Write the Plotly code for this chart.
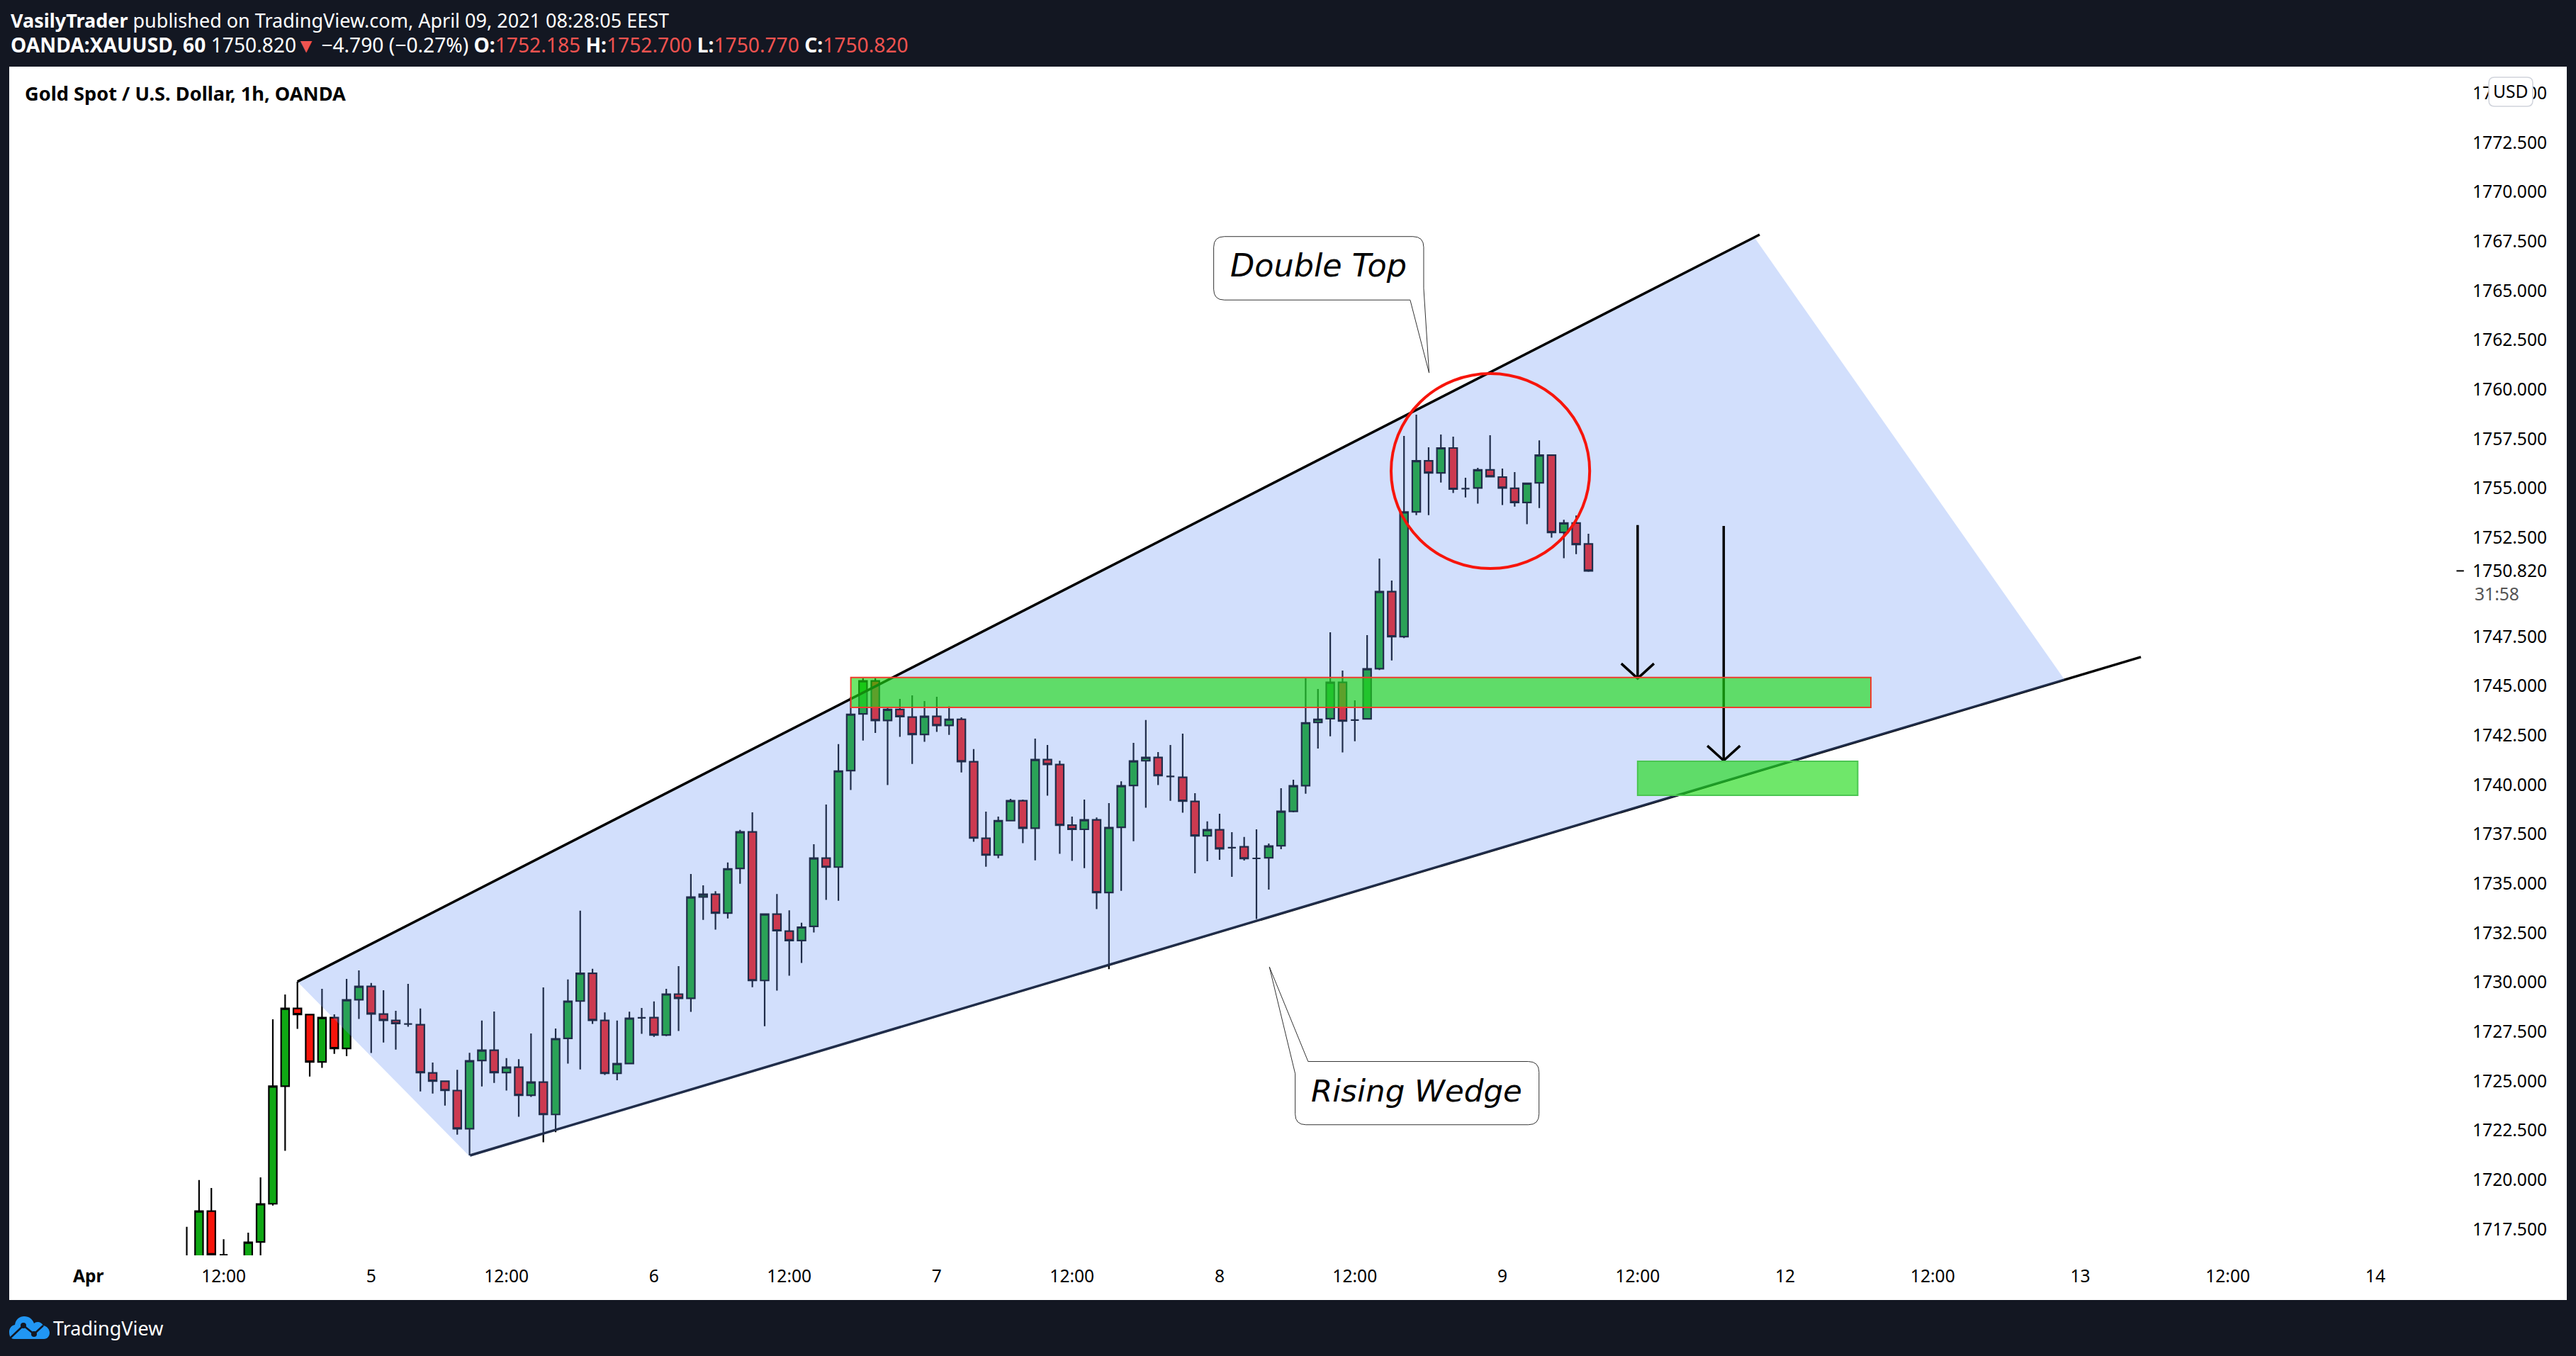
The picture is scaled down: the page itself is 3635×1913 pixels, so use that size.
import plotly.graph_objects as go

W, H = 3635, 1913
L, R, T, B = 13, 3482, 94, 1771

bar_index = list(range(115))
opens = [1715.4,1715.5,1718.42,1716.2,1715.3,1715.6,1716.86,1718.79,1724.74,1728.68,
1728.36,1725.97,1728.21,1726.65,1729.12,1729.79,1728.39,1728.07,1727.89,1727.85,
1725.41,1724.99,1724.52,1722.59,1726.04,1726.56,1725.43,1725.70,1724.28,1724.95,
1723.31,1727.16,1729.05,1730.45,1728.07,1725.39,1725.89,1728.20,1728.21,1727.33,
1729.40,1729.19,1734.32,1734.45,1733.50,1735.76,1737.61,1730.09,1733.45,1732.59,
1732.11,1732.83,1736.28,1735.83,1740.71,1743.58,1745.25,1743.25,1743.81,1743.42,
1742.54,1743.46,1743.00,1743.31,1741.16,1737.29,1736.44,1738.18,1739.19,1737.80,
1741.27,1741.02,1737.95,1737.74,1738.22,1734.54,1737.84,1739.96,1741.21,1741.38,
1740.42,1740.37,1739.15,1737.41,1737.72,1736.81,1736.86,1736.27,1736.30,1736.91,
1738.65,1739.95,1743.15,1743.34,1745.18,1743.27,1743.33,1745.87,1749.77,1747.49,
1753.81,1756.39,1755.78,1757.04,1754.98,1755.02,1755.93,1755.57,1755.00,1754.28,
1755.28,1756.68,1752.77,1753.24,1752.185]
highs = [1717.62,1719.99,1719.59,1717.0,1715.8,1717.33,1720.13,1728.13,1729.38,1730.03,
1728.4,1729.67,1728.38,1730.17,1730.60,1729.96,1729.60,1728.56,1729.92,1728.67,
1725.94,1725.0,1725.57,1726.43,1728.06,1728.52,1726.16,1726.11,1727.41,1729.74,
1727.66,1730.14,1733.62,1730.68,1728.48,1728.06,1728.51,1728.70,1729.03,1729.67,
1730.82,1735.48,1734.91,1734.61,1736.06,1737.71,1738.60,1733.45,1734.47,1733.64,
1733.01,1736.99,1739.00,1742.05,1744.44,1745.39,1745.39,1743.88,1744.34,1744.52,
1744.23,1744.45,1743.96,1743.41,1741.80,1738.64,1738.39,1739.28,1739.25,1742.33,
1742.01,1741.21,1738.39,1739.25,1738.34,1739.07,1740.17,1742.12,1743.27,1741.65,
1742.01,1742.58,1739.57,1738.14,1738.53,1737.60,1737.35,1737.74,1737.02,1739.82,
1740.25,1745.39,1744.84,1747.71,1745.78,1744.27,1747.57,1751.44,1750.33,1757.65,
1758.73,1757.08,1757.72,1757.61,1755.53,1756.04,1757.69,1756.00,1755.82,1755.25,
1757.43,1756.7,1753.41,1753.62,1752.70]
lows = [1714.9,1714.8,1715.8,1715.5,1714.9,1715.2,1715.6,1718.7,1721.47,1727.64,
1725.23,1725.67,1726.38,1726.26,1728.14,1726.42,1726.95,1726.59,1727.75,1724.48,
1724.37,1723.76,1722.29,1721.24,1724.73,1724.91,1724.52,1723.19,1724.2,1721.90,
1722.41,1725.88,1725.59,1727.89,1725.31,1725.04,1725.85,1727.39,1727.24,1727.27,
1727.53,1728.50,1733.16,1732.66,1733.23,1734.99,1729.75,1727.78,1729.58,1730.33,
1730.98,1732.52,1734.17,1734.13,1739.73,1742.23,1742.62,1739.98,1742.42,1741.05,
1742.17,1742.67,1742.52,1740.62,1737.11,1735.85,1736.28,1738.15,1737.04,1736.17,
1739.44,1736.50,1736.14,1735.78,1733.70,1730.66,1734.63,1737.14,1738.83,1739.98,
1739.18,1738.58,1735.52,1736.13,1736.20,1735.34,1736.16,1733.20,1734.69,1736.74,
1738.6,1739.54,1741.83,1742.45,1741.63,1742.20,1743.3,1745.8,1746.29,1747.42,
1753.64,1753.64,1755.29,1754.76,1754.54,1754.22,1755.56,1754.15,1754.07,1753.18,
1754.00,1752.50,1751.46,1751.67,1750.77]
closes = [1715.9,1718.42,1716.22,1716.2,1715.5,1716.84,1718.78,1724.74,1728.68,1728.37,
1725.97,1728.21,1726.65,1729.11,1729.79,1728.40,1728.08,1727.91,1727.89,1725.43,
1725.00,1724.53,1722.59,1726.02,1726.56,1725.43,1725.70,1724.28,1724.95,1723.31,
1727.14,1729.04,1730.45,1728.08,1725.39,1725.88,1728.18,1728.20,1727.33,1729.40,
1729.19,1734.31,1734.45,1733.50,1735.74,1737.61,1730.09,1733.45,1732.61,1732.11,
1732.79,1736.28,1735.83,1740.69,1743.56,1745.25,1743.25,1743.81,1743.45,1742.54,
1743.46,1743.00,1743.31,1741.17,1737.30,1736.44,1738.18,1739.19,1737.80,1741.27,
1741.03,1737.95,1737.74,1738.22,1734.54,1737.83,1739.94,1741.20,1741.38,1740.46,
1740.42,1739.17,1737.41,1737.72,1736.76,1736.81,1736.26,1736.27,1736.89,1738.65,
1739.94,1743.13,1743.31,1745.18,1743.22,1743.27,1745.86,1749.77,1747.49,1753.80,
1756.39,1755.78,1757.04,1754.96,1754.98,1755.93,1755.59,1755.02,1754.28,1755.25,
1756.68,1752.77,1753.24,1752.16,1750.82]

x_tick_vals = [-8,3,15,26,38,49,61,72,84,95,107,118,130,142,154,166,178]
x_tick_text = ["<b>Apr</b>","12:00","5","12:00","6","12:00","7","12:00","8","12:00","9","12:00","12","12:00","13","12:00","14"]
y_tick_vals = [1717.5,1720,1722.5,1725,1727.5,1730,1732.5,1735,1737.5,1740,1742.5,1745,1747.5,1750.82,1752.5,1755,1757.5,1760,1762.5,1765,1767.5,1770,1772.5,1775]
y_tick_text = ["1717.500","1720.000","1722.500","1725.000","1727.500","1730.000","1732.500","1735.000","1737.500","1740.000","1742.500","1745.000","1747.500","1750.820","1752.500","1755.000","1757.500","1760.000","1762.500","1765.000","1767.500","1770.000","1772.500","1775.000"]

upper_line_x, upper_line_y = [9.0, 127.92], [1730.03, 1767.84]
lower_line_x, lower_line_y = [23.04, 158.93], [1721.24, 1746.46]
wedge_x = [9.0, 127.5, 152.76, 23.04, 9.0]
wedge_y = [1730.03, 1767.69, 1745.28, 1721.17, 1730.03]
arrow1_x = [118, 118, None, 116.67, 118, 119.33]
arrow1_y = [1753.14, 1745.38, None, 1746.13, 1745.38, 1746.13]
arrow2_x = [125, 125, None, 123.67, 125, 126.33]
arrow2_y = [1753.09, 1741.22, None, 1741.97, 1741.22, 1741.97]

zone1 = dict(x0=54.01, x1=136.97, y0=1743.91, y1=1745.43)
zone2 = dict(x0=118.0, x1=135.9, y0=1739.46, y1=1741.18)
circle = dict(x0=97.95, x1=114.1, y0=1750.94, y1=1760.81)

FONT = "Noto Sans"
TXT = 24.6
RED = "#ef5350"


def fx(px):
    return (px - L) / (R - L)


def fy(py):
    return (B - py) / (B - T)


def pth(*parts):
    out = []
    for p in parts:
        if isinstance(p, str):
            out.append(p)
        else:
            out.append(f"{fx(p[0]):.5f},{fy(p[1]):.5f}")
    return " ".join(out)


fig = go.Figure()
fig.add_trace(go.Candlestick(
    x=bar_index, open=opens, high=highs, low=lows, close=closes,
    increasing=dict(line=dict(color="#000000", width=2.2), fillcolor="#0fa814"),
    decreasing=dict(line=dict(color="#000000", width=2.2), fillcolor="#f7140a"),
    whiskerwidth=0, showlegend=False))
fig.add_trace(go.Scatter(x=lower_line_x, y=lower_line_y, mode="lines",
                         line=dict(color="#000000", width=3.5), showlegend=False))
fig.add_trace(go.Scatter(x=wedge_x, y=wedge_y, mode="lines", fill="toself",
                         fillcolor="rgba(105,150,245,0.3)", line=dict(width=0), showlegend=False))
fig.add_trace(go.Scatter(x=upper_line_x, y=upper_line_y, mode="lines",
                         line=dict(color="#000000", width=3.5), showlegend=False))
for ax, ay in ((arrow1_x, arrow1_y), (arrow2_x, arrow2_y)):
    fig.add_trace(go.Scatter(x=ax, y=ay, mode="lines",
                             line=dict(color="#000000", width=3.5), showlegend=False))

shapes = []
# page panel
shapes.append(dict(type="rect", xref="paper", yref="paper", x0=fx(13), x1=fx(3622), y0=fy(1834), y1=fy(94),
                   fillcolor="#ffffff", line=dict(width=0), layer="below"))
# zones and circle
shapes.append(dict(type="rect", xref="x", yref="y", **zone1, fillcolor="rgba(29,218,22,0.64)",
                   line=dict(color="#f03c2e", width=2)))
shapes.append(dict(type="rect", xref="x", yref="y", **zone2, fillcolor="rgba(29,218,22,0.64)",
                   line=dict(color="#4cc552", width=2)))
shapes.append(dict(type="circle", xref="x", yref="y", **circle, fillcolor="rgba(0,0,0,0)",
                   line=dict(color="#f7150b", width=4)))

# callouts
rx, ry = 0.87, 0.54
x0, x1, yt, yb = 83.52, 100.6, 1767.74, 1764.53
shapes.append(dict(type="path", xref="x", yref="y", fillcolor="#ffffff", line=dict(color="#333333", width=1),
    path=(f"M {x0+rx},{yt} L {x1-rx},{yt} Q {x1},{yt} {x1},{yt-ry} L {x1},1765.12 L 101.04,1760.84 "
          f"L 99.5,{yb} L {x0+rx},{yb} Q {x0},{yb} {x0},{yb+ry} L {x0},{yt-ry} Q {x0},{yt} {x0+rx},{yt} Z")))
x0, x1, yt, yb = 90.15, 109.98, 1725.99, 1722.79
shapes.append(dict(type="path", xref="x", yref="y", fillcolor="#ffffff", line=dict(color="#333333", width=1),
    path=(f"M 91.2,{yt} L {x1-rx},{yt} Q {x1},{yt} {x1},{yt-ry} L {x1},{yb+ry} Q {x1},{yb} {x1-rx},{yb} "
          f"L {x0+rx},{yb} Q {x0},{yb} {x0},{yb+ry} L {x0},1725.37 L 88.05,1730.78 Z")))

# last price dash
shapes.append(dict(type="line", xref="x", yref="y", x0=184.6, x1=185.2, y0=1750.82, y1=1750.82,
                   line=dict(color="#000000", width=2)))

# USD button
bx0, bx1, by0, by1, r = 3512, 3574, 109, 150, 8
shapes.append(dict(type="path", xref="paper", yref="paper", fillcolor="#ffffff", line=dict(color="#d1d4dc", width=1.5),
    path=pth("M", (bx0+r, by0), "L", (bx1-r, by0), "Q", (bx1, by0), (bx1, by0+r), "L", (bx1, by1-r), "Q", (bx1, by1), (bx1-r, by1),
             "L", (bx0+r, by1), "Q", (bx0, by1), (bx0, by1-r), "L", (bx0, by0+r), "Q", (bx0, by0), (bx0+r, by0), "Z")))

# TradingView cloud logo
shapes.append(dict(type="path", xref="paper", yref="paper", fillcolor="#2196f3", line=dict(width=0),
    path=pth("M", (20, 1889), "C", (14, 1889), (13, 1883), (13, 1879), "C", (13, 1874), (16, 1870), (21, 1869),
             "C", (22, 1861), (28, 1857), (34, 1857), "C", (41, 1857), (46, 1861), (48, 1867),
             "C", (51, 1864), (58, 1864), (61, 1870), "C", (67, 1871), (70, 1876), (70, 1880),
             "C", (70, 1885), (67, 1889), (62, 1889), "Z")))
shapes.append(dict(type="path", xref="paper", yref="paper", line=dict(color="#131722", width=2.5),
    path=pth("M", (14, 1888), "L", (33, 1870), "L", (48, 1882), "L", (61, 1870))))
for cx, cy in ((33, 1870), (48, 1882)):
    shapes.append(dict(type="circle", xref="paper", yref="paper", x0=fx(cx-4), x1=fx(cx+4), y0=fy(cy+4), y1=fy(cy-4),
                       fillcolor="#131722", line=dict(width=0)))


def note(px, py, text, size=TXT, color="#000000", anchor="left", family=FONT):
    return dict(xref="paper", yref="paper", x=fx(px), y=fy(py), text=text, showarrow=False,
                xanchor=anchor, yanchor="middle", align="left",
                font=dict(family=family, size=size, color=color))


def red(s):
    return f'<span style="color:{RED}">{s}</span>'


annotations = [
    note(13, 29, "<b>VasilyTrader</b> published on TradingView.com, April 09, 2021 08:28:05 EEST", size=27, color="#ffffff"),
    note(13, 63, "<b>OANDA:XAUUSD, 60</b> 1750.820" + red("▼") + " −4.790 (−0.27%) <b>O:</b>" + red("1752.185")
         + " <b>H:</b>" + red("1752.700") + " <b>L:</b>" + red("1750.770") + " <b>C:</b>" + red("1750.820"), size=28.2, color="#ffffff"),
    note(33, 132, "<b>Gold Spot / U.S. Dollar, 1h, OANDA</b>", size=27.2),
    note(3490, 837, "31:58", color="#555555"),
    note(3543, 129, "USD", anchor="center"),
    note(73, 1873, "TradingView", size=27, color="#ffffff"),
    dict(xref="x", yref="y", x=92.03, y=1766.26, text="<i>Double Top</i>", showarrow=False,
         font=dict(family="DejaVu Sans", size=44.5, color="#000000")),
    dict(xref="x", yref="y", x=100.04, y=1724.51, text="<i>Rising Wedge</i>", showarrow=False,
         font=dict(family="DejaVu Sans", size=43.5, color="#000000")),
]

fig.update_layout(
    width=W, height=H, paper_bgcolor="#131722", plot_bgcolor="#ffffff",
    margin=dict(l=L, r=W - R, t=T, b=H - B, pad=0),
    shapes=shapes, annotations=annotations, showlegend=False, hovermode=False,
    boxgap=0.35, boxgroupgap=0,
    font=dict(family=FONT, size=TXT, color="#000000"),
    xaxis=dict(range=[-14.44, 185.5], rangeslider=dict(visible=False), showgrid=False, zeroline=False,
               showline=False, tickmode="array", tickvals=x_tick_vals, ticktext=x_tick_text,
               ticks="", ticklabelstandoff=12, tickangle=0, tickfont=dict(family=FONT, size=TXT, color="#000000")),
    yaxis=dict(range=[1716.18, 1776.34], side="right", showgrid=False, zeroline=False, showline=False,
               tickmode="array", tickvals=y_tick_vals, ticktext=y_tick_text,
               ticks="", ticklabelstandoff=6, tickfont=dict(family=FONT, size=TXT, color="#000000")),
)

fig.write_html("out.html", post_script="document.body.style.margin='0';", config={"displayModeBar": False})
